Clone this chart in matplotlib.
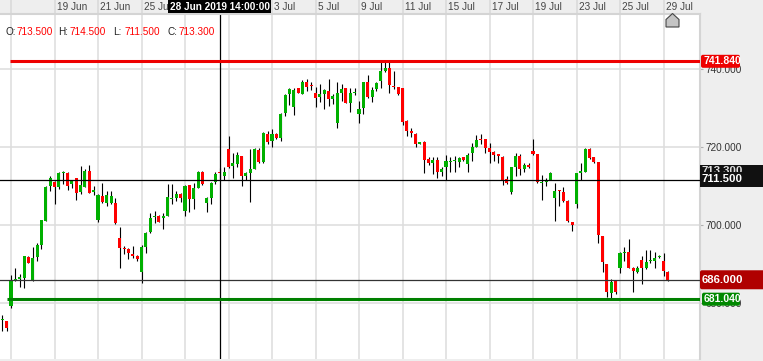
import numpy as np
import matplotlib.pyplot as plt
from matplotlib.patches import FancyBboxPatch, Polygon, Rectangle
from matplotlib.transforms import Bbox, TransformedBbox, offset_copy

plt.rcParams['font.family'] = ['Liberation Sans', 'DejaVu Sans']

# candle data (one entry per bar, oldest first)
opens = [675.8, 675.4, 679.4, 685.8, 686.1, 686.5, 691.9, 685.9, 691.7, 694.9,
         701.1, 710.0, 711.1, 709.8, 713.3, 713.4, 710.4, 711.9, 708.5, 709.8,
         713.8, 708.4, 701.3, 707.4, 705.7, 705.5, 705.7, 696.8, 694.2, 693.9,
         692.4, 692.2, 688.1, 694.5, 698.1, 702.1, 702.3, 701.9, 702.4, 706.6,
         706.8, 707.8, 703.6, 710.2, 706.6, 709.5, 713.6, 705.7, 707.0, 711.1,
         713.5, 712.5, 719.4, 715.2, 715.6, 717.6, 712.6, 713.2, 714.3, 719.2,
         716.0, 723.3, 721.5, 723.3, 722.3, 728.5, 733.4, 730.2, 734.9, 733.6,
         736.5, 735.6, 733.8, 732.8, 733.5, 734.2, 732.3, 726.0, 733.8, 735.0,
         731.3, 733.8, 728.4, 729.8, 736.5, 732.8, 734.7, 736.9, 739.4, 740.2,
         735.5, 735.2, 734.9, 726.7, 724.1, 723.3, 720.8, 721.3, 716.8, 715.8,
         716.6, 713.6, 714.9, 716.0, 716.3, 716.2, 717.3, 715.5, 718.3, 720.0,
         722.0, 721.9, 719.6, 718.7, 718.1, 717.5, 711.7, 708.5, 714.9, 717.7,
         714.3, 715.3, 718.9, 718.1, 710.7, 711.0, 711.5, 707.0, 708.9, 708.5,
         706.2, 700.7, 705.4, 713.4, 713.6, 719.4, 717.3, 716.0, 697.2, 690.0,
         682.7, 685.8, 688.9, 692.9, 693.0, 689.1, 688.1, 691.0, 689.1, 690.7,
         690.8, 691.9, 690.8, 688.1]
highs = [677.0, 675.5, 687.2, 689.1, 687.6, 692.2, 692.0, 694.5, 695.5, 701.4,
         710.0, 712.5, 711.2, 713.6, 713.8, 713.5, 711.4, 712.0, 715.2, 714.2,
         715.3, 710.0, 708.0, 710.7, 708.7, 708.8, 706.8, 699.6, 694.6, 694.0,
         694.6, 692.3, 694.8, 698.1, 703.0, 703.6, 702.5, 703.0, 710.5, 710.5,
         708.7, 708.3, 710.2, 710.3, 710.7, 713.9, 713.7, 707.1, 711.1, 713.6,
         714.5, 714.9, 722.8, 718.3, 718.6, 717.7, 713.5, 719.4, 719.8, 719.6,
         723.8, 724.1, 724.5, 723.4, 728.5, 733.4, 735.1, 734.9, 735.1, 737.1,
         737.2, 736.6, 735.3, 736.0, 734.8, 737.3, 733.5, 736.5, 736.0, 735.1,
         734.9, 735.1, 731.7, 736.6, 738.3, 735.2, 736.6, 741.8, 741.7, 741.7,
         739.4, 735.3, 735.0, 726.8, 724.7, 723.4, 721.1, 721.4, 717.5, 717.3,
         717.5, 714.7, 717.9, 717.3, 717.6, 717.5, 717.5, 718.3, 720.9, 723.0,
         723.3, 722.0, 720.9, 718.8, 718.2, 717.6, 712.4, 714.8, 718.3, 718.1,
         715.9, 715.9, 721.9, 718.2, 712.8, 712.1, 713.6, 710.8, 709.0, 709.6,
         706.3, 700.8, 713.4, 715.8, 719.6, 719.8, 717.4, 716.1, 697.3, 690.1,
         686.2, 686.0, 693.0, 694.5, 696.4, 689.2, 689.5, 692.1, 693.6, 693.6,
         693.0, 692.4, 692.8, 688.2]
lows = [673.0, 673.0, 678.9, 685.8, 684.2, 683.8, 690.2, 685.8, 690.9, 693.8,
        701.0, 708.8, 705.3, 709.2, 710.4, 709.0, 709.5, 706.4, 708.0, 709.7,
        708.2, 707.7, 700.8, 705.5, 704.9, 705.4, 700.3, 689.0, 692.5, 691.2,
        691.5, 690.9, 685.2, 692.9, 697.9, 700.4, 700.7, 699.1, 702.3, 705.3,
        706.1, 706.0, 702.4, 703.4, 704.1, 709.4, 710.2, 703.2, 705.4, 710.4,
        711.5, 711.5, 714.6, 712.1, 714.9, 710.0, 711.5, 705.9, 714.2, 715.9,
        715.8, 720.6, 720.0, 722.1, 721.5, 727.9, 730.7, 728.1, 733.7, 733.5,
        734.3, 734.5, 730.2, 731.5, 729.6, 730.5, 730.9, 724.9, 731.8, 731.2,
        729.0, 733.2, 726.1, 728.4, 732.5, 731.5, 734.2, 734.9, 739.0, 733.8,
        734.8, 733.2, 725.6, 722.8, 722.6, 720.0, 720.7, 713.4, 715.3, 713.0,
        712.1, 712.6, 711.5, 713.6, 713.6, 714.9, 716.3, 713.6, 716.4, 719.9,
        720.6, 718.3, 715.9, 716.4, 715.9, 710.2, 710.5, 707.8, 712.4, 712.8,
        713.6, 714.5, 718.0, 710.7, 706.4, 710.0, 711.4, 701.1, 704.9, 706.0,
        700.7, 698.5, 704.4, 711.5, 713.5, 716.9, 715.9, 695.3, 688.1, 681.7,
        681.4, 682.4, 687.8, 690.8, 689.0, 682.9, 687.8, 684.8, 688.7, 690.4,
        689.1, 691.5, 687.0, 685.7]
closes = [676.0, 673.7, 685.9, 686.0, 686.8, 692.1, 690.4, 691.6, 694.9, 701.3,
          709.8, 712.1, 709.8, 713.2, 713.6, 710.0, 711.3, 708.3, 710.2, 713.8,
          708.3, 709.0, 707.7, 706.0, 707.7, 707.5, 700.4, 694.2, 693.9, 692.8,
          692.2, 691.4, 694.5, 698.0, 701.7, 702.3, 700.8, 702.0, 707.1, 706.8,
          707.8, 706.8, 710.0, 706.6, 709.4, 713.6, 710.5, 707.0, 710.8, 713.0,
          713.3, 713.6, 714.9, 715.8, 717.9, 712.6, 713.4, 714.3, 719.4, 716.0,
          723.6, 721.1, 723.3, 722.3, 728.3, 733.2, 734.8, 734.5, 733.8, 736.5,
          735.3, 735.4, 732.5, 733.5, 734.5, 732.1, 733.0, 733.7, 734.8, 731.3,
          733.7, 734.0, 729.6, 736.5, 732.6, 734.5, 736.4, 739.4, 740.2, 735.8,
          735.2, 733.5, 726.4, 724.0, 723.6, 720.6, 721.0, 716.6, 715.9, 716.6,
          713.6, 714.3, 716.4, 716.2, 716.5, 717.0, 716.6, 717.9, 720.0, 721.7,
          721.8, 719.6, 718.7, 717.9, 717.7, 711.5, 710.7, 714.7, 717.6, 714.2,
          715.3, 714.7, 718.1, 711.1, 710.9, 711.3, 713.4, 708.7, 708.6, 706.1,
          701.0, 700.0, 713.2, 713.8, 719.4, 717.0, 716.0, 697.4, 690.5, 682.9,
          685.5, 682.9, 692.8, 693.1, 689.1, 688.2, 689.1, 688.9, 690.6, 690.9,
          691.6, 692.2, 688.2, 686.0]

date_labels = ['', '19 Jun', '21 Jun', '25 Jun', '27 Jun', '1 Jul', '3 Jul', '5 Jul',
               '9 Jul', '11 Jul', '15 Jul', '17 Jul', '19 Jul', '23 Jul', '25 Jul', '29 Jul']
price_ticks = [680, 700, 720, 740]
resistance = 741.84
support = 681.04
last_price = 686.0
cross_idx = 50
cross_time = '28 Jun 2019 14:00:00'

W, H = 763, 361
fig = plt.figure(figsize=(W / 100, H / 100), dpi=100, facecolor='#eeeeee')


def frame(x0, y0, x1, y1):
    return [x0 / W, 1 - y1 / H, (x1 - x0) / W, (y1 - y0) / H]


ax = fig.add_axes(frame(0, 14, 700, 359))
tax = fig.add_axes(frame(0, 0, 700, 14), sharex=ax)

o = np.array(opens); h = np.array(highs); l = np.array(lows); c = np.array(closes)
idx = np.arange(len(o))
colors = np.where(c >= o, '#00b000', '#ff0000')
body_lo = np.minimum(o, c)
body_h = np.maximum(np.abs(c - o), 0.3)

ax.vlines(idx, l, h, color='black', lw=0.8, zorder=3)
ax.bar(idx, body_h, bottom=body_lo, width=0.7, color=colors, lw=0, zorder=4)

xmax = 160.39
ax.set_xlim(-0.53, xmax)
ax.set_ylim(665.75, 753.93)

grid_x = 2.1 + 10 * np.arange(len(date_labels))
ax.set_xticks(grid_x)
ax.set_yticks(price_ticks)
ax.set_yticklabels([f'{v:.3f}' for v in price_ticks])
ax.grid(True, color='#dddddd', lw=1.1)
ax.set_axisbelow(True)
ax.tick_params(axis='x', length=0, labelbottom=False)
ax.yaxis.tick_right()
ax.tick_params(axis='y', length=2.5, width=0.8, color='#b0b0b0', labelsize=7.2,
               labelcolor='#333333', pad=1.5)
for s in ['top', 'left', 'bottom']:
    ax.spines[s].set_visible(False)
ax.spines['right'].set_color('#d4d4d4')
ax.spines['right'].set_linewidth(1.5)

# horizontal levels and crosshair
ax.axhline(last_price, color='#333333', lw=0.9, zorder=5)
ax.axhline(lows[cross_idx], color='black', lw=0.9, zorder=5)
ax.axvline(cross_idx, color='black', lw=0.9, zorder=5)
ax.hlines(resistance, 1.77, xmax, color='#ee0000', lw=2.2, zorder=6)
ax.hlines(support, 1.08, xmax, color='#008000', lw=2.2, zorder=6)

# top date bar
tax.set_facecolor('#eeeeee')
tax.set_ylim(0, 1)
tax.vlines(grid_x, 0, 1, color='#d8d8d8', lw=1.1)
tax.axvline(cross_idx, color='black', lw=0.9)
tax.tick_params(bottom=False, labelbottom=False, left=False, labelleft=False)
for s in ['top', 'left', 'right']:
    tax.spines[s].set_visible(False)
tax.spines['bottom'].set_color('#d4d4d4')
tax.spines['bottom'].set_linewidth(1.5)

# overlay in pixel coordinates for labels on the price axis
ov = fig.add_axes([0, 0, 1, 1])
ov.set_xlim(0, W)
ov.set_ylim(H, 0)
ov.axis('off')
ov.set_zorder(10)


def ypix(v):
    return H - ax.transData.transform((0, v))[1]


def xpix(i):
    return ax.transData.transform((i, 0))[0]


# crosshair time label covers the date labels below it
xc = xpix(cross_idx)
box_l, box_r = xc - 51.5, xc + 51.5
ov.add_patch(Rectangle((box_l, 0), 103, 13, fc='black', ec='none'))
ov.text(xc, 6.5, cross_time, color='white', fontsize=7.2, fontweight='bold',
        ha='center', va='center')

toff = offset_copy(tax.transData, fig=fig, x=2, y=0, units='dots')
for gx, lab in zip(grid_x, date_labels):
    if box_l <= xpix(gx) < box_r:
        continue
    tax.text(gx, 0.5, lab, transform=toff, ha='left', va='center',
             fontsize=7.2, color='#444444')


def tag(v, x0, x1, hgt, fc, size, dy=0.0):
    y = ypix(v)
    ov.add_patch(FancyBboxPatch((x0, y - hgt / 2 + dy), x1 - x0, hgt,
                                boxstyle='round,pad=0,rounding_size=2', fc=fc, ec='none'))
    ov.text(x0 + 2, y + dy, f'{v:.3f}', color='white', fontsize=size,
            fontweight='bold', ha='left', va='center')


tag(resistance, 701, 740, 13, '#ee0000', 7.5)
tag(support, 702, 740, 13, '#008800', 7.5)
tag(last_price, 700, 768, 19, '#b00000', 8.2)

# crosshair price label
yc = ypix(lows[cross_idx])
ov.add_patch(Rectangle((700, yc - 15), 66, 22, fc='#111111', ec='none'))
t = ov.text(702, yc - 9, f'{closes[cross_idx]:.3f}', color='#dddddd', fontsize=8.2,
            fontweight='bold', ha='left', va='center')
t.set_clip_box(TransformedBbox(Bbox.from_extents(700, yc - 15, 763, yc - 8), ov.transData))
t.set_clip_on(True)
ov.text(702, yc - 1.5, f'{lows[cross_idx]:.3f}', color='white', fontsize=8.2,
        fontweight='bold', ha='left', va='center')

# home marker
ov.add_patch(Polygon([(666, 27), (666, 19.5), (672.5, 13.5), (679, 19.5), (679, 27)],
                     closed=True, fc='#c4c4c4', ec='#444444', lw=0.8))

# OHLC readout
ohlc = [('O:', 5, opens), ('H:', 58, highs), ('L:', 113, lows), ('C:', 167, closes)]
for name, x0, arr in ohlc:
    ov.text(x0, 32, name, color='#222222', fontsize=7.2, ha='left', va='center')
    ov.text(x0 + 12, 32, f'{arr[cross_idx]:.3f}', color='#ff0000', fontsize=7.2,
            ha='left', va='center')

fig.savefig('out.png', dpi=100, facecolor=fig.get_facecolor())
